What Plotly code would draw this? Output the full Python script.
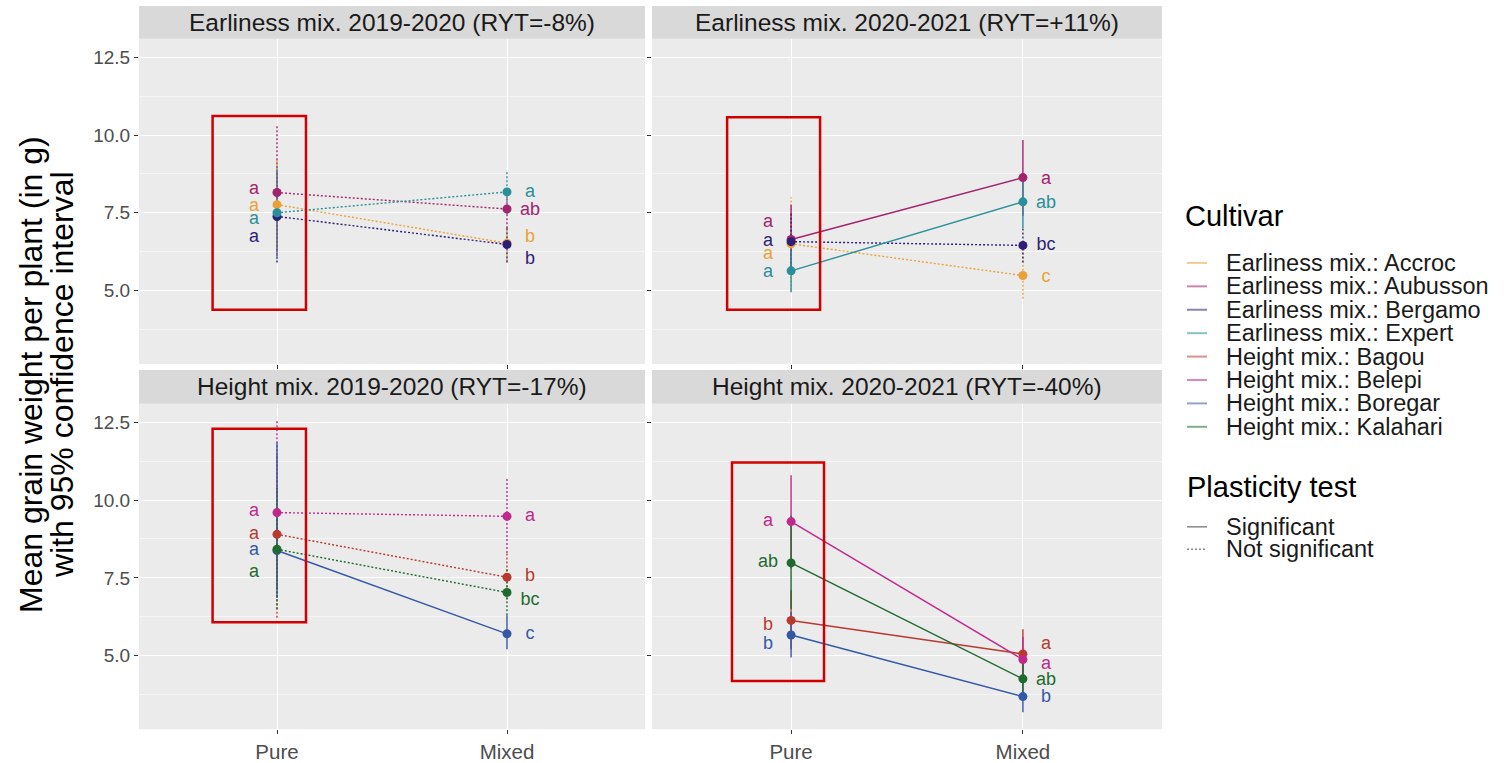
import plotly.graph_objects as go

W, H = 1504, 763

# ---------------- data ----------------
panel_titles = [
    "Earliness mix. 2019-2020 (RYT=-8%)",
    "Earliness mix. 2020-2021 (RYT=+11%)",
    "Height mix. 2019-2020 (RYT=-17%)",
    "Height mix. 2020-2021 (RYT=-40%)",
]
conditions = ["Pure", "Mixed"]
y_ticks = [5.0, 7.5, 10.0, 12.5]

cultivars_earliness = ["Accroc", "Aubusson", "Bergamo", "Expert"]
cultivars_height = ["Bagou", "Belepi", "Boregar", "Kalahari"]

legend_labels = [
    "Earliness mix.: Accroc", "Earliness mix.: Aubusson", "Earliness mix.: Bergamo",
    "Earliness mix.: Expert", "Height mix.: Bagou", "Height mix.: Belepi",
    "Height mix.: Boregar", "Height mix.: Kalahari",
]
plasticity_labels = ["Significant", "Not significant"]
y_title_lines = ["Mean grain weight per plant (in g)", "with 95% confidence interval"]

# Panel 1: Earliness 2019-2020 (Accroc, Aubusson, Bergamo, Expert)
p1_pure = [7.76, 8.15, 7.38, 7.50]
p1_mixed = [6.52, 7.62, 6.48, 8.17]
p1_pure_lo = [6.30, 6.10, 5.90, 6.00]
p1_pure_hi = [9.20, 10.30, 8.80, 9.00]
p1_mixed_lo = [5.95, 7.00, 5.90, 7.45]
p1_mixed_hi = [7.10, 8.20, 7.05, 8.85]
p1_sig = [False, False, False, False]
p1_let_pure = ["a", "a", "a", "a"]
p1_let_pure_y = [7.71, 8.26, 6.70, 7.28]
p1_let_mixed = ["b", "ab", "b", "a"]
p1_let_mixed_y = [6.70, 7.57, 6.00, 8.14]

# Panel 2: Earliness 2020-2021
p2_pure = [6.50, 6.64, 6.57, 5.63]
p2_mixed = [5.48, 8.63, 6.45, 7.85]
p2_pure_lo = [5.00, 5.50, 5.60, 4.94]
p2_pure_hi = [8.00, 7.76, 7.50, 6.30]
p2_mixed_lo = [4.73, 7.40, 5.90, 7.00]
p2_mixed_hi = [6.30, 9.84, 7.00, 8.70]
p2_sig = [False, True, False, True]
p2_let_pure = ["a", "a", "a", "a"]
p2_let_pure_y = [6.16, 7.18, 6.59, 5.58]
p2_let_mixed = ["c", "a", "bc", "ab"]
p2_let_mixed_y = [5.42, 8.58, 6.43, 7.79]

# Panel 3: Height 2019-2020 (Bagou, Belepi, Boregar, Kalahari)
p3_pure = [8.90, 9.60, 8.38, 8.42]
p3_mixed = [7.52, 9.48, 5.70, 7.03]
p3_pure_lo = [6.22, 7.20, 6.86, 6.50]
p3_pure_hi = [11.50, 12.60, 11.86, 10.40]
p3_mixed_lo = [6.80, 8.30, 5.20, 6.30]
p3_mixed_hi = [8.30, 10.74, 6.30, 7.80]
p3_sig = [False, False, True, False]
p3_let_pure = ["a", "a", "a", "a"]
p3_let_pure_y = [8.88, 9.62, 8.37, 7.66]
p3_let_mixed = ["b", "a", "c", "bc"]
p3_let_mixed_y = [7.53, 9.46, 5.69, 6.78]

# Panel 4: Height 2020-2021
p4_pure = [6.13, 9.31, 5.66, 7.98]
p4_mixed = [5.05, 4.87, 3.68, 4.25]
p4_pure_lo = [5.20, 7.80, 4.94, 6.50]
p4_pure_hi = [7.10, 10.80, 6.40, 9.50]
p4_mixed_lo = [4.30, 4.10, 3.18, 3.70]
p4_mixed_hi = [5.85, 5.60, 4.20, 4.90]
p4_sig = [True, True, True, True]
p4_let_pure = ["b", "a", "b", "ab"]
p4_let_pure_y = [5.96, 9.31, 5.34, 7.98]
p4_let_mixed = ["a", "a", "b", "ab"]
p4_let_mixed_y = [5.37, 4.70, 3.64, 4.21]

# highlight boxes (x in category units around "Pure", y in data units)
box_x0 = [-0.28, -0.276, -0.28, -0.255]
box_x1 = [0.126, 0.125, 0.126, 0.142]
box_y0 = [4.38, 4.38, 6.07, 4.18]
box_y1 = [10.61, 10.57, 12.30, 11.21]

# ---------------- styles ----------------
colors = {
    "Accroc": "#E9A23B", "Aubusson": "#A2236E", "Bergamo": "#2F1F74", "Expert": "#2A8F9A",
    "Bagou": "#B9382F", "Belepi": "#C0288C", "Boregar": "#3558A6", "Kalahari": "#1F6A2E",
}
FONT = "Liberation Sans, Arial, sans-serif"
DOT = "2px,2px"


def px_x(p):
    return p / W


def px_y(p):
    return 1 - p / H


x_dom = [[px_x(139), px_x(645)], [px_x(652), px_x(1162)]]
y_dom = [[px_y(367), px_y(39)], [px_y(735), px_y(407)]]
y_range = [2.63, 13.1]
x_range = [-0.6, 1.6]

panels = [
    (cultivars_earliness, p1_pure, p1_mixed, p1_pure_lo, p1_pure_hi, p1_mixed_lo, p1_mixed_hi, p1_sig,
     p1_let_pure, p1_let_pure_y, p1_let_mixed, p1_let_mixed_y),
    (cultivars_earliness, p2_pure, p2_mixed, p2_pure_lo, p2_pure_hi, p2_mixed_lo, p2_mixed_hi, p2_sig,
     p2_let_pure, p2_let_pure_y, p2_let_mixed, p2_let_mixed_y),
    (cultivars_height, p3_pure, p3_mixed, p3_pure_lo, p3_pure_hi, p3_mixed_lo, p3_mixed_hi, p3_sig,
     p3_let_pure, p3_let_pure_y, p3_let_mixed, p3_let_mixed_y),
    (cultivars_height, p4_pure, p4_mixed, p4_pure_lo, p4_pure_hi, p4_mixed_lo, p4_mixed_hi, p4_sig,
     p4_let_pure, p4_let_pure_y, p4_let_mixed, p4_let_mixed_y),
]

fig = go.Figure()
layout = dict(
    width=W, height=H, margin=dict(l=0, r=0, t=0, b=0),
    paper_bgcolor="white", plot_bgcolor="#EBEBEB", showlegend=False,
    font=dict(family=FONT, color="#1A1A1A"),
)
shapes = []
annotations = []

x_pos = [0, 1]
label_dx = 0.1

for i, (cults, pure, mixed, plo, phi, mlo, mhi, sig, lp, lpy, lm, lmy) in enumerate(panels):
    r, c = divmod(i, 2)
    n = i + 1
    xa = "x" if n == 1 else f"x{n}"
    ya = "y" if n == 1 else f"y{n}"
    xkey = "xaxis" if n == 1 else f"xaxis{n}"
    ykey = "yaxis" if n == 1 else f"yaxis{n}"
    layout[xkey] = dict(
        domain=x_dom[c], anchor=ya, range=x_range, tickmode="array", tickvals=x_pos,
        ticktext=conditions, showticklabels=(r == 1), showgrid=True, gridcolor="white",
        gridwidth=1.4, zeroline=False, ticks="outside", ticklen=4, tickcolor="#333333",
        tickfont=dict(size=20.5, color="#4D4D4D", family=FONT), showline=False,
    )
    layout[ykey] = dict(
        domain=y_dom[r], anchor=xa, range=y_range, tickmode="array", tickvals=y_ticks,
        ticktext=[f"{v:.1f}" for v in y_ticks], showticklabels=(c == 0), showgrid=True,
        gridcolor="white", gridwidth=1.4, zeroline=False, ticks="outside", ticklen=4,
        tickcolor="#333333", tickfont=dict(size=19, color="#4D4D4D", family=FONT),
        minor=dict(tickmode="array", tickvals=[3.75, 6.25, 8.75, 11.25], showgrid=True,
                   gridcolor="#F5F5F5", gridwidth=0.7, ticks=""),
    )
    # error bars
    for k, cu in enumerate(cults):
        fig.add_trace(go.Scatter(
            x=[x_pos[0], x_pos[0], None, x_pos[1], x_pos[1]],
            y=[plo[k], phi[k], None, mlo[k], mhi[k]],
            mode="lines", line=dict(color=colors[cu], width=1.4, dash="solid" if sig[k] else DOT),
            xaxis=xa, yaxis=ya, hoverinfo="skip", showlegend=False,
        ))
    # connecting lines + points
    for k, cu in enumerate(cults):
        fig.add_trace(go.Scatter(
            x=x_pos, y=[pure[k], mixed[k]], mode="lines+markers",
            line=dict(color=colors[cu], width=1.4, dash="solid" if sig[k] else DOT),
            marker=dict(size=9, color=colors[cu]),
            xaxis=xa, yaxis=ya, name=cu, showlegend=False,
        ))
    # letters
    for k, cu in enumerate(cults):
        fig.add_trace(go.Scatter(
            x=[x_pos[0] - label_dx, x_pos[1] + label_dx], y=[lpy[k], lmy[k]],
            text=[lp[k], lm[k]], mode="text", textposition="middle center",
            textfont=dict(size=18, color=colors[cu], family=FONT),
            xaxis=xa, yaxis=ya, hoverinfo="skip", showlegend=False,
        ))
    # strip
    top_px = 6 if r == 0 else 373
    bot_px = 39 if r == 0 else 407
    shapes.append(dict(type="rect", xref="paper", yref="paper",
                       x0=x_dom[c][0], x1=x_dom[c][1], y0=px_y(bot_px), y1=px_y(top_px),
                       fillcolor="#D9D9D9", line=dict(width=0), layer="below"))
    annotations.append(dict(text=panel_titles[i], xref="paper", yref="paper",
                            x=(x_dom[c][0] + x_dom[c][1]) / 2, y=px_y((top_px + bot_px) / 2),
                            xanchor="center", yanchor="middle", showarrow=False,
                            font=dict(size=24.5, color="#1A1A1A", family=FONT)))
    # red highlight box
    shapes.append(dict(type="rect", xref=xa, yref=ya, x0=box_x0[i], x1=box_x1[i],
                       y0=box_y0[i], y1=box_y1[i], line=dict(color="#D00000", width=2.5),
                       fillcolor="rgba(0,0,0,0)", layer="above"))

# y-axis title (two lines, placed separately for tight line spacing)
for j, (line_txt, cx) in enumerate(zip(y_title_lines, [31, 62])):
    annotations.append(dict(
        text=line_txt, xref="paper", yref="paper", x=px_x(cx), y=px_y(378),
        xanchor="center", yanchor="middle", textangle=-90, showarrow=False,
        font=dict(size=32, color="#000000", family=FONT),
    ))

# legend (manual)
cult_colors = [colors[c] for c in cultivars_earliness + cultivars_height]
annotations.append(dict(text="Cultivar", xref="paper", yref="paper", x=px_x(1183), y=px_y(218),
                        xanchor="left", yanchor="middle", showarrow=False,
                        font=dict(size=29, color="#000000", family=FONT)))
row0, dy = 265, 23.6
for j, lab in enumerate(legend_labels):
    yy = row0 + j * dy
    shapes.append(dict(type="line", xref="paper", yref="paper", x0=px_x(1187), x1=px_x(1207),
                       y0=px_y(yy), y1=px_y(yy), line=dict(color=cult_colors[j], width=2),
                       opacity=0.55))
    annotations.append(dict(text=lab, xref="paper", yref="paper", x=px_x(1224), y=px_y(yy),
                            xanchor="left", yanchor="middle", showarrow=False,
                            font=dict(size=23.5, color="#1A1A1A", family=FONT)))
annotations.append(dict(text="Plasticity test", xref="paper", yref="paper", x=px_x(1185),
                        y=px_y(491), xanchor="left", yanchor="middle", showarrow=False,
                        font=dict(size=29, color="#000000", family=FONT)))
for j, lab in enumerate(plasticity_labels):
    yy = 531 + j * 22.5
    shapes.append(dict(type="line", xref="paper", yref="paper", x0=px_x(1187), x1=px_x(1207),
                       y0=px_y(yy), y1=px_y(yy),
                       line=dict(color="#555555", width=1.5, dash="solid" if j == 0 else DOT),
                       opacity=0.7))
    annotations.append(dict(text=lab, xref="paper", yref="paper", x=px_x(1224), y=px_y(yy),
                            xanchor="left", yanchor="middle", showarrow=False,
                            font=dict(size=23.5, color="#1A1A1A", family=FONT)))

layout["shapes"] = shapes
layout["annotations"] = annotations
fig.update_layout(**layout)
fig.write_html("out.html", config={"displayModeBar": False},
               post_script="document.body.style.margin='0';")
